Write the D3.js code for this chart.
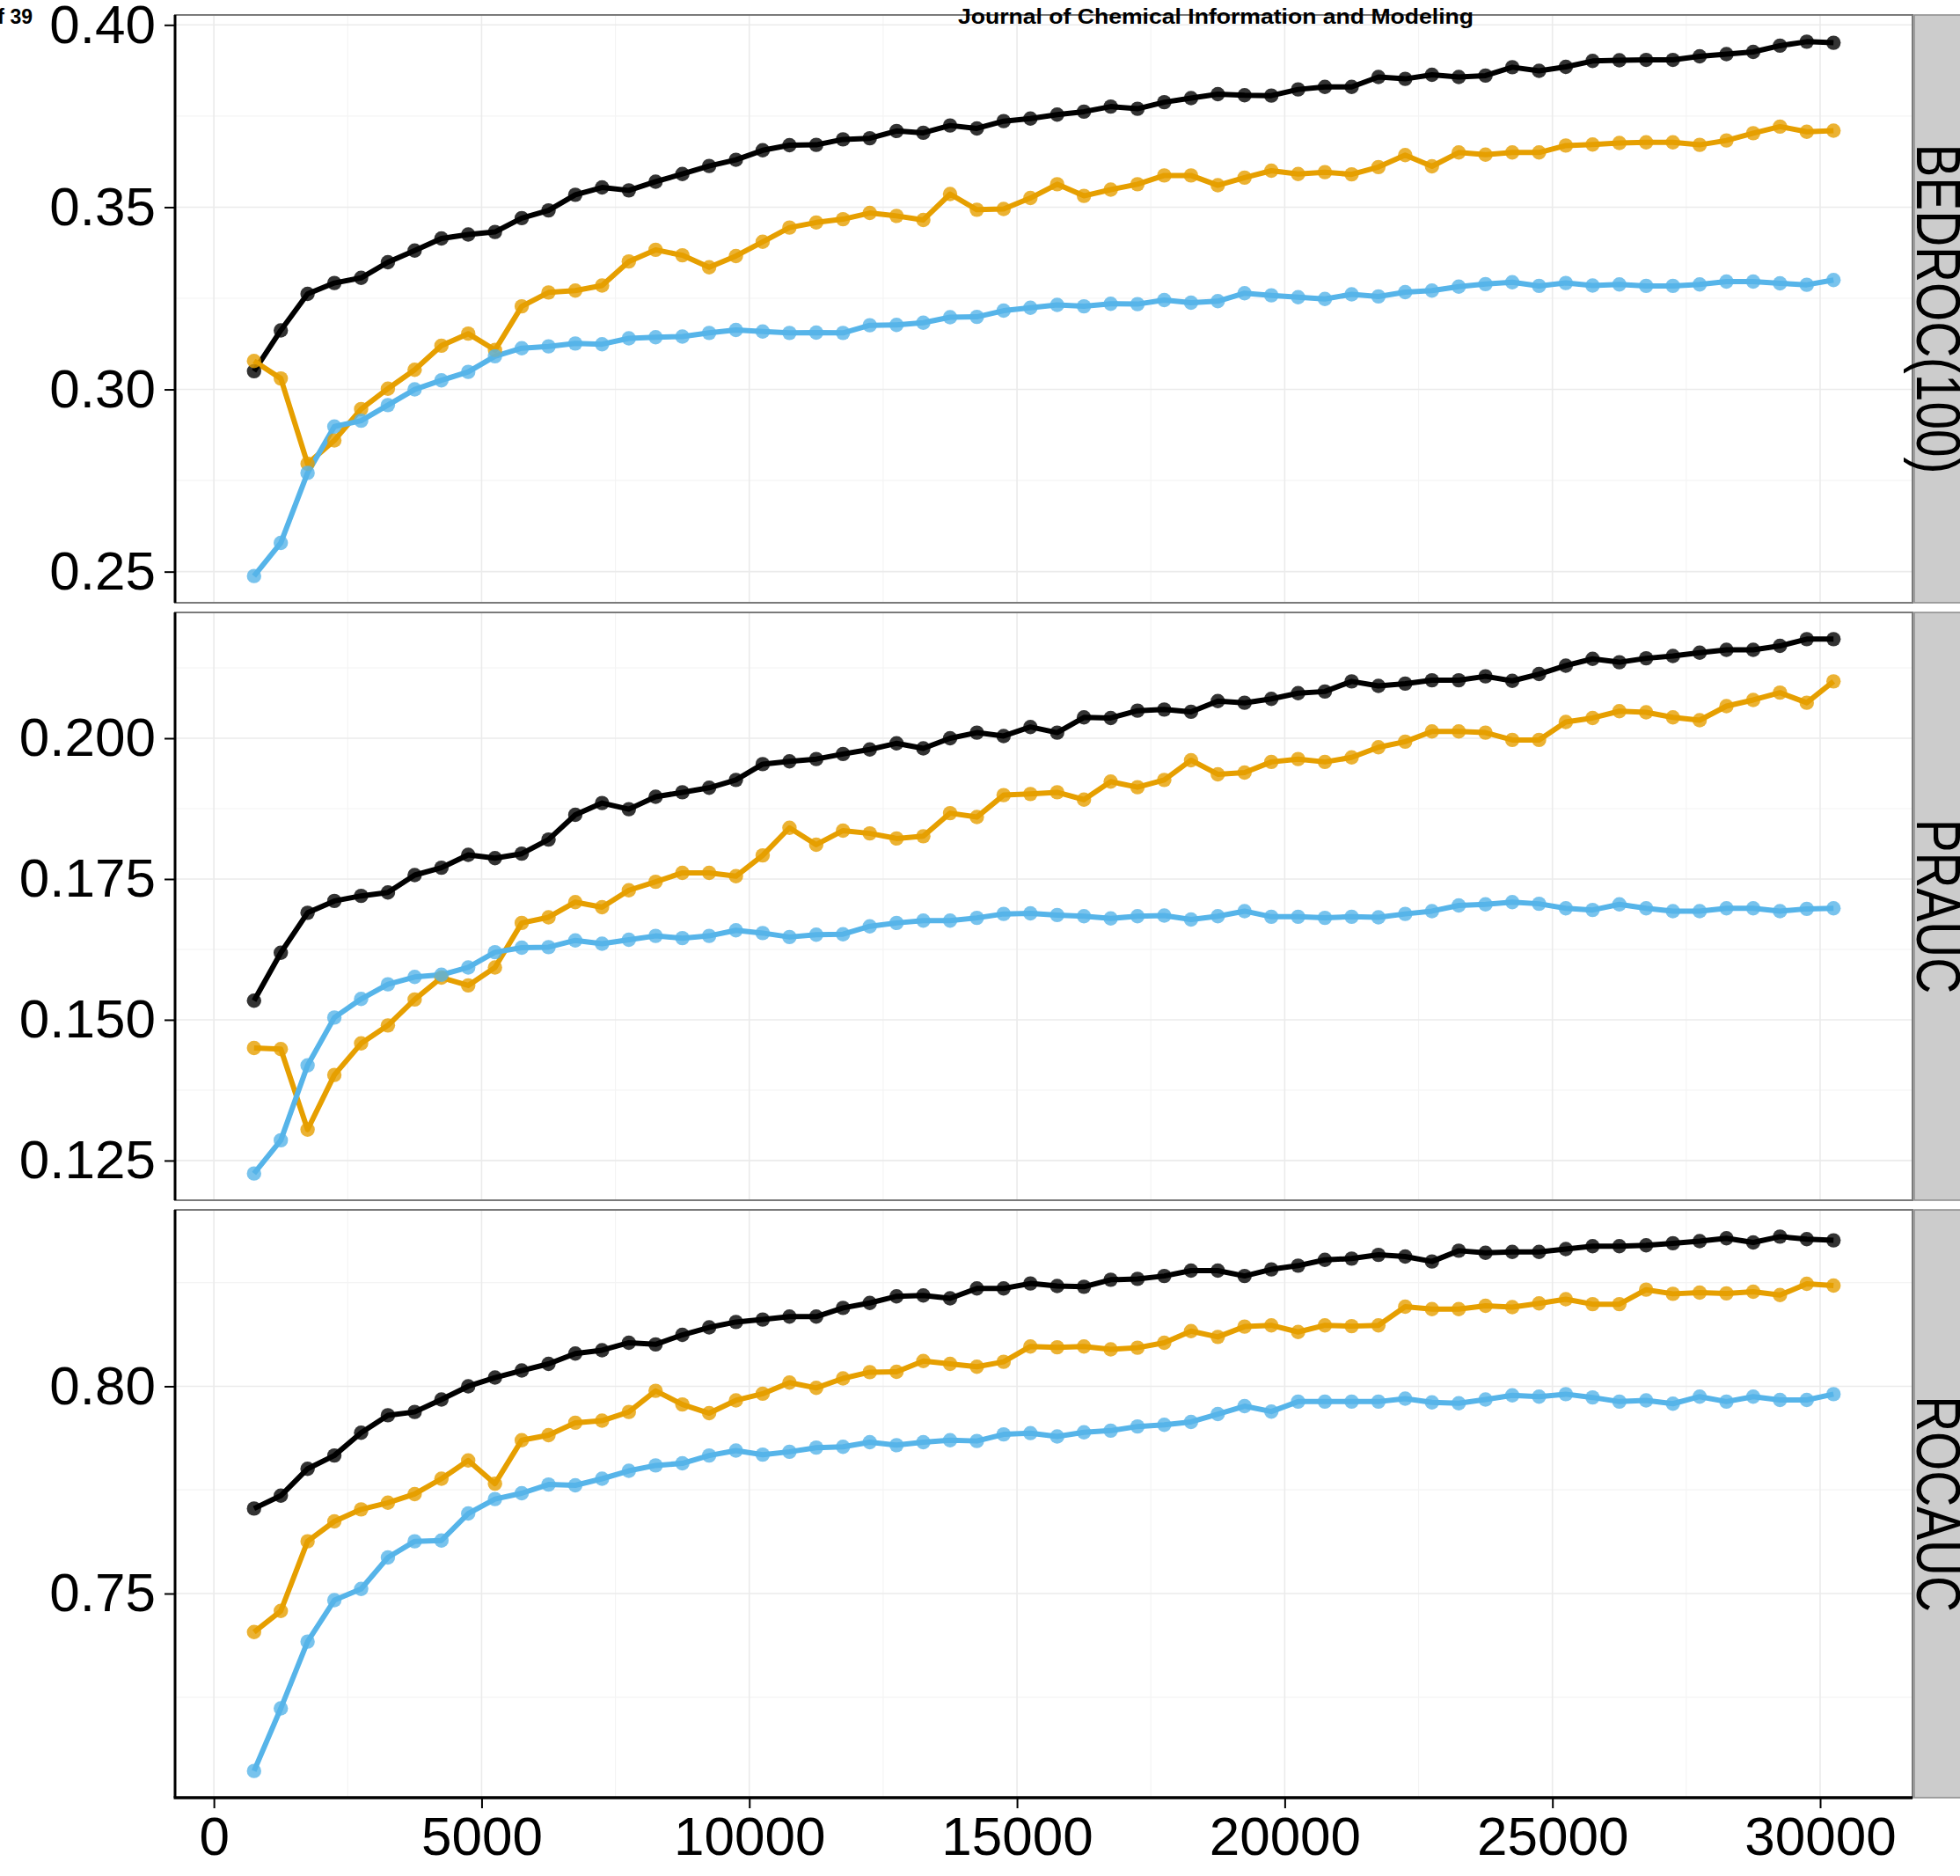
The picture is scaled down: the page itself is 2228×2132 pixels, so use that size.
<!DOCTYPE html>
<html>
<head>
<meta charset="utf-8">
<script src="https://cdn.jsdelivr.net/npm/d3@7"></script>
<style>
  body { margin: 0; background: #fff; }
  svg { display: block; }
  text { font-family: "Liberation Sans", Arial, sans-serif; }
</style>
</head>
<body>
<script>
var width = 2228;
var height = 2132;
var panelLeft = 199;
var panelRight = 2174;
var panelTops = [17, 696, 1375];
var panelHeight = 668;

// training set sizes (x)
var sizes = [750, 1250, 1750, 2250, 2750, 3250, 3750, 4250, 4750, 5250,
  5750, 6250, 6750, 7250, 7750, 8250, 8750, 9250, 9750, 10250,
  10750, 11250, 11750, 12250, 12750, 13250, 13750, 14250, 14750, 15250,
  15750, 16250, 16750, 17250, 17750, 18250, 18750, 19250, 19750, 20250,
  20750, 21250, 21750, 22250, 22750, 23250, 23750, 24250, 24750, 25250,
  25750, 26250, 26750, 27250, 27750, 28250, 28750, 29250, 29750, 30250];

var metrics = ["BEDROC(100)", "PRAUC", "ROCAUC"];
var seriesColors = ["#000000", "#E69F00", "#56B4E9"];

var bedrocBlack = [0.3050, 0.3162, 0.3262, 0.3292, 0.3306, 0.3349, 0.3381, 0.3414, 0.3425, 0.3432,
  0.3470, 0.3491, 0.3534, 0.3554, 0.3546, 0.3570, 0.3591, 0.3613, 0.3630, 0.3656,
  0.3670, 0.3671, 0.3686, 0.3689, 0.3709, 0.3704, 0.3724, 0.3716, 0.3736, 0.3743,
  0.3754, 0.3762, 0.3776, 0.3770, 0.3788, 0.3799, 0.3810, 0.3807, 0.3806, 0.3823,
  0.3830, 0.3830, 0.3857, 0.3852, 0.3863, 0.3857, 0.3861, 0.3884, 0.3874, 0.3885,
  0.3901, 0.3903, 0.3904, 0.3904, 0.3914, 0.3920, 0.3926, 0.3943, 0.3954, 0.3951];
var bedrocOrange = [0.3078, 0.3030, 0.2796, 0.2860, 0.2946, 0.3002, 0.3054, 0.3120, 0.3153, 0.3108,
  0.3228, 0.3266, 0.3271, 0.3285, 0.3351, 0.3383, 0.3368, 0.3335, 0.3366, 0.3405,
  0.3444, 0.3458, 0.3467, 0.3484, 0.3476, 0.3465, 0.3536, 0.3493, 0.3495, 0.3525,
  0.3563, 0.3531, 0.3548, 0.3563, 0.3587, 0.3587, 0.3560, 0.3581, 0.3600, 0.3591,
  0.3596, 0.3590, 0.3610, 0.3643, 0.3612, 0.3650, 0.3644, 0.3650, 0.3650, 0.3669,
  0.3672, 0.3676, 0.3678, 0.3678, 0.3671, 0.3683, 0.3703, 0.3721, 0.3707, 0.3710];
var bedrocBlue = [0.2488, 0.2579, 0.2771, 0.2898, 0.2914, 0.2957, 0.3000, 0.3025, 0.3048, 0.3091,
  0.3113, 0.3118, 0.3126, 0.3124, 0.3140, 0.3143, 0.3145, 0.3155, 0.3163, 0.3159,
  0.3155, 0.3156, 0.3155, 0.3176, 0.3177, 0.3183, 0.3198, 0.3199, 0.3216, 0.3224,
  0.3232, 0.3228, 0.3235, 0.3234, 0.3245, 0.3238, 0.3242, 0.3264, 0.3258, 0.3253,
  0.3248, 0.3261, 0.3255, 0.3267, 0.3271, 0.3282, 0.3289, 0.3294, 0.3284, 0.3292,
  0.3285, 0.3288, 0.3284, 0.3284, 0.3288, 0.3296, 0.3296, 0.3291, 0.3287, 0.3300];

var praucBlack = [0.1534, 0.1619, 0.1690, 0.1711, 0.1720, 0.1726, 0.1757, 0.1770, 0.1793, 0.1787,
  0.1795, 0.1820, 0.1864, 0.1885, 0.1874, 0.1896, 0.1904, 0.1912, 0.1926, 0.1954,
  0.1959, 0.1963, 0.1972, 0.1980, 0.1991, 0.1982, 0.2000, 0.2010, 0.2004, 0.2020,
  0.2010, 0.2037, 0.2036, 0.2049, 0.2051, 0.2047, 0.2066, 0.2063, 0.2070, 0.2080,
  0.2083, 0.2101, 0.2093, 0.2097, 0.2103, 0.2103, 0.2110, 0.2102, 0.2114, 0.2129,
  0.2141, 0.2135, 0.2142, 0.2146, 0.2152, 0.2157, 0.2157, 0.2164, 0.2176, 0.2176];
var praucOrange = [0.1450, 0.1448, 0.1305, 0.1402, 0.1458, 0.1490, 0.1536, 0.1575, 0.1561, 0.1593,
  0.1672, 0.1682, 0.1709, 0.1700, 0.1730, 0.1745, 0.1761, 0.1761, 0.1755, 0.1792,
  0.1841, 0.1811, 0.1836, 0.1831, 0.1822, 0.1826, 0.1867, 0.1860, 0.1899, 0.1901,
  0.1904, 0.1891, 0.1923, 0.1913, 0.1926, 0.1961, 0.1936, 0.1939, 0.1958, 0.1963,
  0.1958, 0.1966, 0.1984, 0.1994, 0.2012, 0.2012, 0.2010, 0.1997, 0.1997, 0.2029,
  0.2036, 0.2048, 0.2046, 0.2037, 0.2032, 0.2057, 0.2068, 0.2081, 0.2063, 0.2101];
var praucBlue = [0.1227, 0.1286, 0.1419, 0.1504, 0.1537, 0.1563, 0.1576, 0.1580, 0.1593, 0.1620,
  0.1628, 0.1629, 0.1641, 0.1635, 0.1642, 0.1649, 0.1645, 0.1649, 0.1659, 0.1654,
  0.1647, 0.1651, 0.1652, 0.1666, 0.1672, 0.1676, 0.1676, 0.1681, 0.1688, 0.1689,
  0.1686, 0.1684, 0.1680, 0.1684, 0.1685, 0.1678, 0.1684, 0.1693, 0.1683, 0.1683,
  0.1681, 0.1683, 0.1682, 0.1688, 0.1693, 0.1703, 0.1705, 0.1709, 0.1706, 0.1698,
  0.1695, 0.1705, 0.1698, 0.1693, 0.1693, 0.1698, 0.1698, 0.1693, 0.1697, 0.1698];

var rocBlack = [0.7705, 0.7736, 0.7801, 0.7833, 0.7888, 0.7930, 0.7938, 0.7968, 0.8000, 0.8021,
  0.8038, 0.8054, 0.8079, 0.8087, 0.8105, 0.8101, 0.8124, 0.8142, 0.8155, 0.8161,
  0.8168, 0.8168, 0.8189, 0.8201, 0.8217, 0.8219, 0.8212, 0.8236, 0.8236, 0.8248,
  0.8242, 0.8240, 0.8257, 0.8259, 0.8266, 0.8279, 0.8279, 0.8266, 0.8282, 0.8291,
  0.8305, 0.8308, 0.8317, 0.8313, 0.8301, 0.8327, 0.8322, 0.8324, 0.8324, 0.8331,
  0.8338, 0.8338, 0.8340, 0.8345, 0.8350, 0.8357, 0.8347, 0.8361, 0.8355, 0.8352];
var rocOrange = [0.7407, 0.7458, 0.7626, 0.7674, 0.7703, 0.7719, 0.7740, 0.7777, 0.7821, 0.7765,
  0.7870, 0.7882, 0.7912, 0.7917, 0.7938, 0.7989, 0.7956, 0.7935, 0.7966, 0.7982,
  0.8009, 0.7996, 0.8019, 0.8034, 0.8035, 0.8061, 0.8054, 0.8047, 0.8059, 0.8096,
  0.8094, 0.8096, 0.8089, 0.8093, 0.8105, 0.8133, 0.8119, 0.8144, 0.8147, 0.8131,
  0.8147, 0.8145, 0.8147, 0.8192, 0.8186, 0.8186, 0.8194, 0.8191, 0.8200, 0.8210,
  0.8198, 0.8198, 0.8233, 0.8223, 0.8226, 0.8224, 0.8228, 0.8220, 0.8247, 0.8243];
var rocBlue = [0.7072, 0.7223, 0.7384, 0.7484, 0.7511, 0.7587, 0.7626, 0.7628, 0.7693, 0.7728,
  0.7742, 0.7763, 0.7761, 0.7777, 0.7796, 0.7809, 0.7814, 0.7833, 0.7845, 0.7835,
  0.7842, 0.7852, 0.7854, 0.7865, 0.7858, 0.7865, 0.7870, 0.7868, 0.7884, 0.7887,
  0.7879, 0.7889, 0.7893, 0.7903, 0.7907, 0.7914, 0.7933, 0.7952, 0.7939, 0.7963,
  0.7963, 0.7963, 0.7963, 0.7970, 0.7961, 0.7959, 0.7968, 0.7978, 0.7975, 0.7981,
  0.7973, 0.7963, 0.7966, 0.7958, 0.7975, 0.7963, 0.7975, 0.7967, 0.7967, 0.7981];

var xTicks = [0, 5000, 10000, 15000, 20000, 25000, 30000];
var xMinor = [2500, 7500, 12500, 17500, 22500, 27500];
var yTicks = [[0.25, 0.30, 0.35, 0.40], [0.125, 0.150, 0.175, 0.200], [0.75, 0.80]];
var yMinor = [[0.275, 0.325, 0.375], [0.1375, 0.1625, 0.1875, 0.2125], [0.725, 0.775, 0.825]];
var yTickFormat = [".2f", ".3f", ".2f"];

var panelSeries = [
  [bedrocBlack, bedrocOrange, bedrocBlue],
  [praucBlack, praucOrange, praucBlue],
  [rocBlack, rocOrange, rocBlue]
];

// ggplot style 5% padding on both sides
function expanded(ext) {
  var pad = (ext[1] - ext[0]) * 0.05;
  return [ext[0] - pad, ext[1] + pad];
}

let svg = d3.select("body")
            .append("svg")
            .attr("width", width)
            .attr("height", height);

var xScale = d3.scaleLinear()
      .domain(expanded(d3.extent(sizes)))
      .range([panelLeft, panelRight]);

function drawPanel(p) {
  var top = panelTops[p];
  var bottom = top + panelHeight;
  var allVals = d3.merge(panelSeries[p]);
  var yScale = d3.scaleLinear()
        .domain(expanded(d3.extent(allVals)))
        .range([bottom, top]);

  var g = svg.append("g");

  g.append("rect")
    .attr("x", panelLeft).attr("y", top)
    .attr("width", panelRight - panelLeft).attr("height", panelHeight)
    .attr("fill", "#fff");

  // grid
  g.selectAll(".xminor").data(xMinor).join("line")
    .attr("x1", d => xScale(d)).attr("x2", d => xScale(d))
    .attr("y1", top).attr("y2", bottom)
    .attr("stroke", "#f4f4f4").attr("stroke-width", 1.2);
  g.selectAll(".yminor").data(yMinor[p]).join("line")
    .attr("x1", panelLeft).attr("x2", panelRight)
    .attr("y1", d => yScale(d)).attr("y2", d => yScale(d))
    .attr("stroke", "#f4f4f4").attr("stroke-width", 1.2);
  g.selectAll(".xmajor").data(xTicks).join("line")
    .attr("x1", d => xScale(d)).attr("x2", d => xScale(d))
    .attr("y1", top).attr("y2", bottom)
    .attr("stroke", "#ebebeb").attr("stroke-width", 1.6);
  g.selectAll(".ymajor").data(yTicks[p]).join("line")
    .attr("x1", panelLeft).attr("x2", panelRight)
    .attr("y1", d => yScale(d)).attr("y2", d => yScale(d))
    .attr("stroke", "#ebebeb").attr("stroke-width", 1.6);

  var line = d3.line()
        .x((d, i) => xScale(sizes[i]))
        .y(d => yScale(d));

  panelSeries[p].forEach(function(vals, s) {
    g.append("path")
      .attr("d", line(vals))
      .attr("fill", "none")
      .attr("stroke", seriesColors[s])
      .attr("stroke-width", 6)
      .attr("stroke-linejoin", "round");
  });
  panelSeries[p].forEach(function(vals, s) {
    g.selectAll(null).data(vals).join("circle")
      .attr("cx", (d, i) => xScale(sizes[i]))
      .attr("cy", d => yScale(d))
      .attr("r", 8.2)
      .attr("fill", seriesColors[s])
      .attr("fill-opacity", 0.8);
  });

  // border
  g.append("rect")
    .attr("x", panelLeft).attr("y", top)
    .attr("width", panelRight - panelLeft).attr("height", panelHeight)
    .attr("fill", "none")
    .attr("stroke", "#7a7a7a").attr("stroke-width", 2);

  // strip on the right (runs past the page edge)
  g.append("rect")
    .attr("x", panelRight + 2).attr("y", top)
    .attr("width", 120).attr("height", panelHeight)
    .attr("fill", "#cccccc")
    .attr("stroke", "#8a8a8a").attr("stroke-width", 1.5);
  g.append("text")
    .attr("transform", `translate(${panelRight + 5},${(top + bottom) / 2}) rotate(90) scale(0.81,1)`)
    .attr("text-anchor", "middle")
    .attr("font-size", 70)
    .attr("fill", "#000")
    .text(metrics[p]);

  // y axis
  var yAxis = d3.axisLeft(yScale)
        .tickValues(yTicks[p])
        .tickFormat(d3.format(yTickFormat[p]))
        .tickSize(12)
        .tickPadding(10);
  g.append("g")
    .attr("transform", `translate(${panelLeft},0)`)
    .call(yAxis)
    .call(a => a.select(".domain").remove())
    .call(a => a.selectAll(".tick line").attr("stroke", "#000").attr("stroke-width", 2))
    .call(a => a.selectAll(".tick text")
                .attr("font-size", 62)
                .attr("font-family", "'Liberation Sans', Arial, sans-serif")
                .attr("fill", "#000"));
  g.append("line")
    .attr("x1", panelLeft).attr("x2", panelLeft)
    .attr("y1", top).attr("y2", bottom)
    .attr("stroke", "#000").attr("stroke-width", 3);

  if (p == panelTops.length - 1) {
    var xAxis = d3.axisBottom(xScale)
          .tickValues(xTicks)
          .tickFormat(d3.format("d"))
          .tickSize(12)
          .tickPadding(9);
    g.append("g")
      .attr("transform", `translate(0,${bottom})`)
      .call(xAxis)
      .call(a => a.select(".domain").remove())
      .call(a => a.selectAll(".tick line").attr("stroke", "#000").attr("stroke-width", 2))
      .call(a => a.selectAll(".tick text")
                  .attr("font-size", 62)
                  .attr("font-family", "'Liberation Sans', Arial, sans-serif")
                  .attr("fill", "#000"));
    g.append("line")
      .attr("x1", panelLeft - 1.5).attr("x2", panelRight)
      .attr("y1", bottom).attr("y2", bottom)
      .attr("stroke", "#000").attr("stroke-width", 3.5);
  }
}

for (var p = 0; p < panelTops.length; p++) {
  drawPanel(p);
}

// page header from the journal pdf
svg.append("text")
  .attr("x", 1382).attr("y", 27)
  .attr("text-anchor", "middle")
  .attr("font-size", 24).attr("font-weight", "bold")
  .attr("textLength", 586).attr("lengthAdjust", "spacingAndGlyphs")
  .text("Journal of Chemical Information and Modeling");
svg.append("text")
  .attr("x", 37).attr("y", 27)
  .attr("text-anchor", "end")
  .attr("font-size", 23).attr("font-weight", "bold")
  .text("of 39");
</script>
</body>
</html>
